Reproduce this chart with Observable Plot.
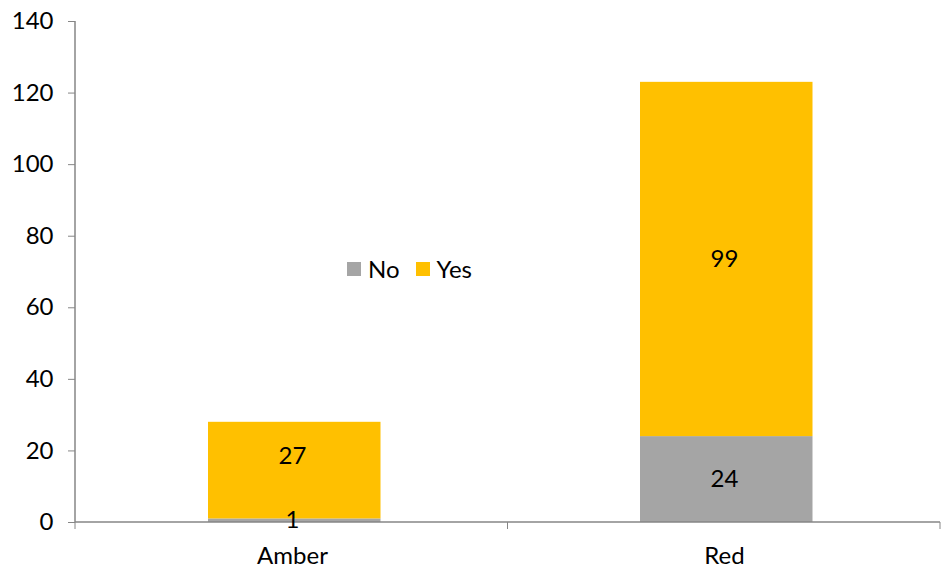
<!DOCTYPE html>
<html><head><meta charset="utf-8">
<script src="https://cdn.jsdelivr.net/npm/d3@7"></script>
<script src="https://cdn.jsdelivr.net/npm/@observablehq/plot@0.6"></script>
<style>
body{margin:0;background:#fff;font-family:Lato,"Open Sans",sans-serif;}
#wrap{position:relative;width:941px;height:570px;}
#legend{position:absolute;left:347px;top:254px;display:flex;align-items:center;font-size:24px;color:#000;}
#legend span.sw{display:inline-block;width:14px;height:14px;margin-right:7px;}
#legend span.lab{margin-right:16px;}
</style></head>
<body><div id="wrap"><div id="legend"></div></div>
<script>
const categories = ["Amber", "Red"];
const series = ["No", "Yes"];
const noValues = [1, 24];
const yesValues = [27, 99];
const yTicks = [0, 20, 40, 60, 80, 100, 120, 140];
const colors = ["#A5A5A5", "#FFC000"];

const data = [];
categories.forEach((c, i) => {
  data.push({cat: c, series: "No", value: noValues[i]});
  data.push({cat: c, series: "Yes", value: yesValues[i]});
});

const W = 941, H = 570, mL = 75, mR = 1, mT = 21, mB = 48;

const bandTicks = (index, scales, values, dims) => {
  const g = d3.create("svg:g");
  const bw = (dims.width - dims.marginLeft - dims.marginRight) / categories.length;
  const y0 = dims.height - dims.marginBottom;
  for (let i = 0; i <= categories.length; i++) {
    const x = dims.marginLeft + i * bw;
    g.append("line").attr("x1", x).attr("x2", x).attr("y1", y0).attr("y2", y0 + 7)
      .attr("stroke", "#868686").attr("stroke-width", 1);
  }
  g.append("line").attr("x1", dims.marginLeft).attr("x2", dims.width - dims.marginRight)
    .attr("y1", y0).attr("y2", y0).attr("stroke", "#868686").attr("stroke-width", 1.5);
  g.append("line").attr("x1", dims.marginLeft).attr("x2", dims.marginLeft)
    .attr("y1", dims.marginTop).attr("y2", y0).attr("stroke", "#868686").attr("stroke-width", 1.5);
  return g.node();
};

const isShifted = d => d.cat === "Amber" && d.series === "Yes";

const chart = Plot.plot({
  width: W, height: H,
  marginLeft: mL, marginRight: mR, marginTop: mT, marginBottom: mB,
  style: {fontFamily: "Lato, 'Open Sans', sans-serif", fontSize: "24px", color: "#000", background: "#fff"},
  x: {domain: categories, padding: 0, label: null},
  y: {domain: [0, 140], label: null},
  color: {domain: series, range: colors},
  marks: [
    Plot.barY(data, {x: "cat", y: "value", fill: "series", order: series, insetLeft: 132, insetRight: 127.5}),
    Plot.axisY({ticks: yTicks, tickSize: 7, tickPadding: 15, stroke: "#868686", fill: "#000", label: null, fontSize: 24}),
    Plot.axisX({tickSize: 0, tickPadding: 24, label: null, fill: "#000", fontSize: 24}),
    bandTicks,
    Plot.text(data, Plot.stackY({x: "cat", y: "value", z: "series", order: series, text: "value",
      fill: "#000", fontSize: 24, filter: d => !isShifted(d)})),
    Plot.text(data, Plot.stackY({x: "cat", y: "value", z: "series", order: series, text: "value",
      dy: -18, fill: "#000", fontSize: 24, filter: d => isShifted(d)}))
  ]
});
document.getElementById("wrap").prepend(chart);

const leg = document.getElementById("legend");
series.forEach((s, i) => {
  leg.insertAdjacentHTML("beforeend",
    `<span class="sw" style="background:${colors[i]}"></span><span class="lab">${s}</span>`);
});
</script></body></html>
